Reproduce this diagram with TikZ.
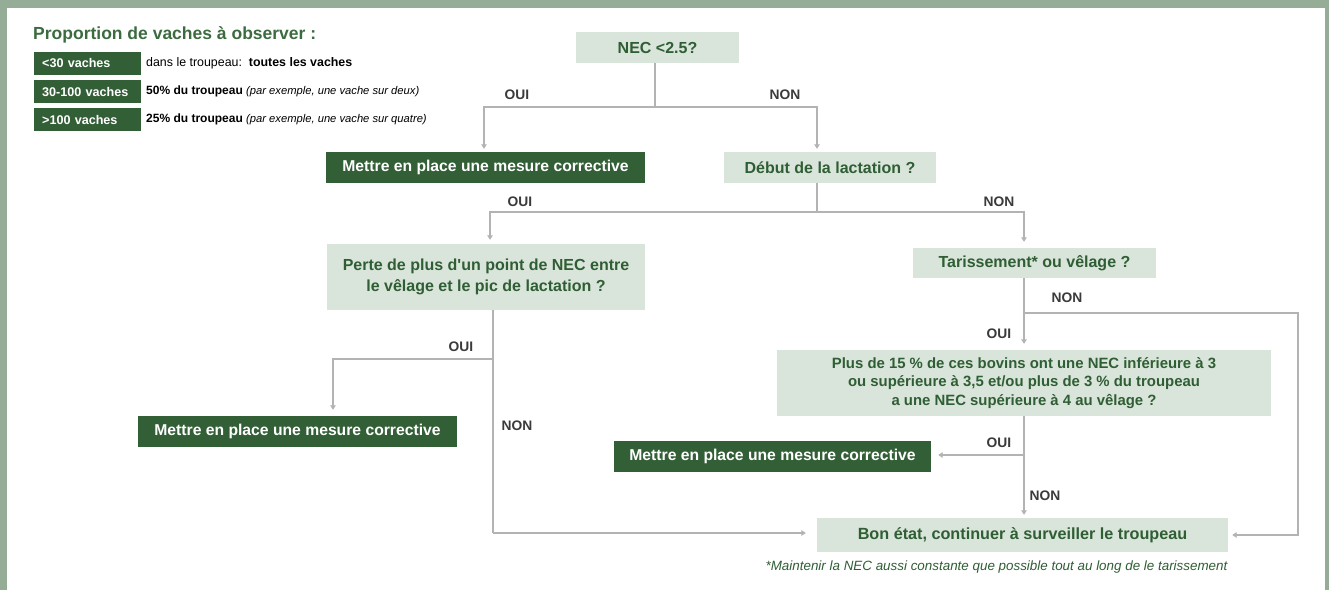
\documentclass[tikz,border=0pt]{standalone}
\usepackage{fontspec}
\setmainfont{Liberation Sans}
\usetikzlibrary{arrows.meta}
\definecolor{framec}{HTML}{95AC97}
\definecolor{darkg}{HTML}{335F37}
\definecolor{lightg}{HTML}{D9E5DA}
\definecolor{textg}{HTML}{2F5E34}
\definecolor{titleg}{HTML}{3C6B40}
\definecolor{linec}{HTML}{B3B3B3}
\definecolor{labc}{HTML}{3A3A3A}
\tikzset{
  lbox/.style={fill=lightg, text=textg, inner sep=0pt, align=center, font=\fontsize{16}{21.5}\bfseries\selectfont},
  dbox/.style={fill=darkg, text=white, inner sep=0pt, align=center, font=\fontsize{15.7}{19}\bfseries\selectfont},
  legbox/.style={fill=darkg, text=white, inner ysep=0pt, inner xsep=8pt, text width=91pt, align=left, minimum height=23pt, anchor=west, font=\fontsize{12.6}{15}\bfseries\selectfont},
  legtxt/.style={anchor=west, inner sep=0pt, text=black, font=\fontsize{12.4}{15}\selectfont},
  legit/.style={font=\fontsize{11.2}{13}\itshape\selectfont},
  lab/.style={inner sep=0pt, text=labc, font=\fontsize{13.8}{16}\bfseries\selectfont},
  ln/.style={draw=linec, line width=1.5pt},
  arr/.style={ln, -{Triangle[width=5.5pt,length=4.5pt]}},
}
\begin{document}
\begin{tikzpicture}[x=1pt,y=-1pt]
\useasboundingbox (0,0) rectangle (1329,590);
\fill[framec] (0,0) rectangle (1329,590);
\fill[white] (7,8) rectangle (1325,590);

% legend
\node[anchor=base west, inner sep=0pt, text=titleg, font=\fontsize{17.5}{20}\bfseries\selectfont] (title) at (33,39) {Proportion de vaches à observer :};
\node[legbox] (r1) at (34,63.5) {<30 vaches};
\node[legbox] (r2) at (34,91.5) {30-100 vaches};
\node[legbox] (r3) at (34,119.5) {>100 vaches};
\node[legtxt] (t1) at (146,63.5) {dans le troupeau:\ \ \textbf{toutes les vaches}};
\node[legtxt] (t2) at (146,91.5) {\fontsize{12}{15}\selectfont\textbf{50\% du troupeau} {\fontsize{11.2}{13}\selectfont\itshape (par exemple, une vache sur deux)}};
\node[legtxt] (t3) at (146,119.5) {\fontsize{12}{15}\selectfont\textbf{25\% du troupeau} {\fontsize{11.2}{13}\selectfont\itshape (par exemple, une vache sur quatre)}};

% boxes
\node[lbox, minimum width=163pt, minimum height=31pt] (nec) at (657.5,47.5) {NEC <2.5?};
\node[dbox, minimum width=319pt, minimum height=31pt] (m1) at (485.5,167.5) {Mettre en place une mesure corrective};
\node[lbox, minimum width=212pt, minimum height=31pt] (debut) at (830,167.5) {Début de la lactation ?};
\node[lbox, minimum width=318pt, minimum height=66pt] (perte) at (486,277) {Perte de plus d\textquotesingle un point de NEC entre\\le vêlage et le pic de lactation ?};
\node[lbox, minimum width=243pt, minimum height=30pt] (tar) at (1034.5,263) {Tarissement* ou vêlage ?};
\node[lbox, minimum width=494pt, minimum height=66pt, font=\fontsize{14.9}{18.5}\bfseries\selectfont] (plus) at (1024,383) {Plus de 15 \% de ces bovins ont une NEC inférieure à 3\\ou supérieure à 3,5 et/ou plus de 3 \% du troupeau\\a une NEC supérieure à 4 au vêlage ?};
\node[dbox, minimum width=319pt, minimum height=31pt] (m2) at (297.5,431.5) {Mettre en place une mesure corrective};
\node[dbox, minimum width=317pt, minimum height=31pt] (m3) at (772.5,456.5) {Mettre en place une mesure corrective};
\node[lbox, minimum width=411pt, minimum height=34pt, font=\fontsize{16.2}{19}\bfseries\selectfont] (bon) at (1022.5,535) {Bon état, continuer à surveiller le troupeau};
\node[inner sep=0pt, text=textg, font=\fontsize{13.4}{16}\itshape\selectfont] (foot) at (996.5,567) {*Maintenir la NEC aussi constante que possible tout au long de le tarissement};

% connectors
\coordinate (a1) at (655,107);
\draw[ln] (nec.south -| a1) -- (a1);
\draw[arr, shorten >=3pt] (a1) -| ([xshift=-1.5pt]m1.north);
\draw[arr, shorten >=3pt] (a1) -| ([xshift=-13pt]debut.north);

\coordinate (a2) at (817,212);
\draw[ln] (debut.south -| a2) -- (a2);
\draw[arr, shorten >=4pt] (a2) -| ([xshift=4pt]perte.north);
\draw[arr, shorten >=6pt] (a2) -| ([xshift=-10.5pt]tar.north);

\coordinate (a3) at (493,359);
\coordinate (a3b) at (493,533);
\draw[ln] (perte.south -| a3) -- (a3b);
\draw[arr, shorten >=11pt] (a3b) -- (bon.west |- a3b);
\draw[arr, shorten >=6pt] (a3) -| ([xshift=35.5pt]m2.north);

\coordinate (a4) at (1024,313);
\coordinate (a4r) at (1298,313);
\draw[arr, shorten >=6pt] (tar.south -| a4) -- (plus.north -| a4);
\draw[arr, shorten >=4pt] (a4) -- (a4r) |- (bon.east);

\coordinate (a5) at (1024,455);
\draw[arr, shorten >=3pt] (plus.south -| a5) -- (bon.north -| a5);
\draw[arr, shorten >=7pt] (a5) -- (m3.east |- a5);

% labels
\node[lab] (o1) at (517,95) {OUI};
\node[lab] (n1) at (785,95) {NON};
\node[lab] (o2) at (520,202) {OUI};
\node[lab] (n2) at (999,202) {NON};
\node[lab] (o3) at (461,347) {OUI};
\node[lab] (n3) at (517,426) {NON};
\node[lab] (n4) at (1067,298) {NON};
\node[lab] (o4) at (999,334) {OUI};
\node[lab] (o5) at (999,443) {OUI};
\node[lab] (n5) at (1045,496) {NON};
\end{tikzpicture}
\end{document}
